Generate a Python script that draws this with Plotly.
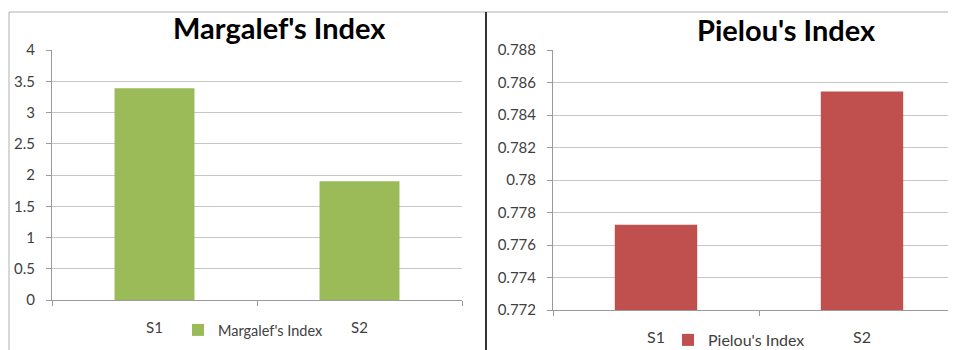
import plotly.graph_objects as go

# Page body has an 8px margin; figure coordinates below are given in
# reference-image pixels and shifted by that offset.
W, H = 960, 380
OFF = 8

categories = ["S1", "S2"]
margalef = [3.39, 1.90]
pielou = [0.77725, 0.78545]
margalef_ticks = [0, 0.5, 1, 1.5, 2, 2.5, 3, 3.5, 4]
margalef_ticktext = ["0", "0.5", "1", "1.5", "2", "2.5", "3", "3.5", "4"]
pielou_ticks = [0.772, 0.774, 0.776, 0.778, 0.78, 0.782, 0.784, 0.786, 0.788]
pielou_ticktext = ["0.772", "0.774", "0.776", "0.778", "0.78", "0.782", "0.784", "0.786", "0.788"]

GREEN = "#9BBB59"
RED = "#C0504D"
FONT = "Lato"
TXT = "#404040"
GRID = "#c6c6c6"
AXIS = "#9a9a9a"


def px(x):
    return (x - OFF) / W


def py(y):
    return 1 - (y - OFF) / H


fig = go.Figure()
fig.add_trace(go.Bar(x=categories, y=margalef, name="Margalef's Index",
                     marker=dict(color=GREEN, line=dict(width=0)), width=0.39,
                     xaxis="x", yaxis="y", legend="legend"))
fig.add_trace(go.Bar(x=categories, y=pielou, name="Pielou's Index",
                     marker=dict(color=RED, line=dict(width=0)), width=0.40,
                     xaxis="x2", yaxis="y2", legend="legend2"))

fig.update_layout(
    width=W, height=H,
    margin=dict(l=0, r=0, t=0, b=0, autoexpand=False),
    paper_bgcolor="white", plot_bgcolor="white",
    showlegend=True,
    xaxis=dict(domain=[px(52), px(462)], anchor="y", range=[-0.5, 1.5], automargin=False,
               showgrid=False, showline=True, linecolor=AXIS, linewidth=1,
               ticks="outside", tickson="boundaries", ticklen=5, tickcolor=AXIS,
               tickfont=dict(family=FONT, size=15, color=TXT),
               ticklabelstandoff=14, fixedrange=True),
    yaxis=dict(domain=[py(300), py(50)], anchor="x", range=[0, 4], automargin=False,
               tickvals=margalef_ticks, ticktext=margalef_ticktext,
               showgrid=True, gridcolor=GRID, gridwidth=1,
               showline=True, linecolor=AXIS, linewidth=1,
               ticks="outside", ticklen=5, tickcolor=AXIS,
               tickfont=dict(family=FONT, size=15, color=TXT),
               ticklabelstandoff=8, zeroline=False),
    xaxis2=dict(domain=[px(553), px(965)], anchor="y2", range=[-0.5, 1.5], automargin=False,
                showgrid=False, showline=True, linecolor=AXIS, linewidth=1,
                ticks="outside", tickson="boundaries", ticklen=5, tickcolor=AXIS,
                tickfont=dict(family=FONT, size=16, color=TXT),
                ticklabelstandoff=13),
    yaxis2=dict(domain=[py(310), py(50)], anchor="x2", range=[0.772, 0.788], automargin=False,
                tickvals=pielou_ticks, ticktext=pielou_ticktext,
                showgrid=True, gridcolor=GRID, gridwidth=1,
                showline=True, linecolor=AXIS, linewidth=1,
                ticks="outside", ticklen=5, tickcolor=AXIS,
                tickfont=dict(family=FONT, size=15, color=TXT),
                ticklabelstandoff=8, zeroline=False),
    legend=dict(x=px(178), y=py(330), xanchor="left", yanchor="middle",
                orientation="h", font=dict(family=FONT, size=14.5, color=TXT),
                itemwidth=30, bgcolor="rgba(0,0,0,0)"),
    legend2=dict(x=px(668), y=py(340), xanchor="left", yanchor="middle",
                 orientation="h", font=dict(family=FONT, size=16, color=TXT),
                 itemwidth=30, bgcolor="rgba(0,0,0,0)"),
    annotations=[
        dict(text="<b>Margalef's Index</b>", x=px(279), y=py(28), xref="paper", yref="paper",
             showarrow=False, font=dict(family=FONT, size=29, color="#000000"),
             xanchor="center", yanchor="middle"),
        dict(text="<b>Pielou's Index</b>", x=px(786), y=py(30), xref="paper", yref="paper",
             showarrow=False, font=dict(family=FONT, size=29, color="#000000"),
             xanchor="center", yanchor="middle"),
    ],
    shapes=[
        dict(type="line", xref="paper", yref="paper", x0=px(9), x1=1.0, y0=py(12), y1=py(12),
             line=dict(color="#b0b0b0", width=1)),
        dict(type="line", xref="paper", yref="paper", x0=px(9), x1=px(9), y0=py(12), y1=0,
             line=dict(color="#b0b0b0", width=1)),
        dict(type="line", xref="paper", yref="paper", x0=px(486), x1=px(486), y0=py(12), y1=0,
             line=dict(color="#333333", width=2)),
    ],
)

fig.write_html("out.html")
